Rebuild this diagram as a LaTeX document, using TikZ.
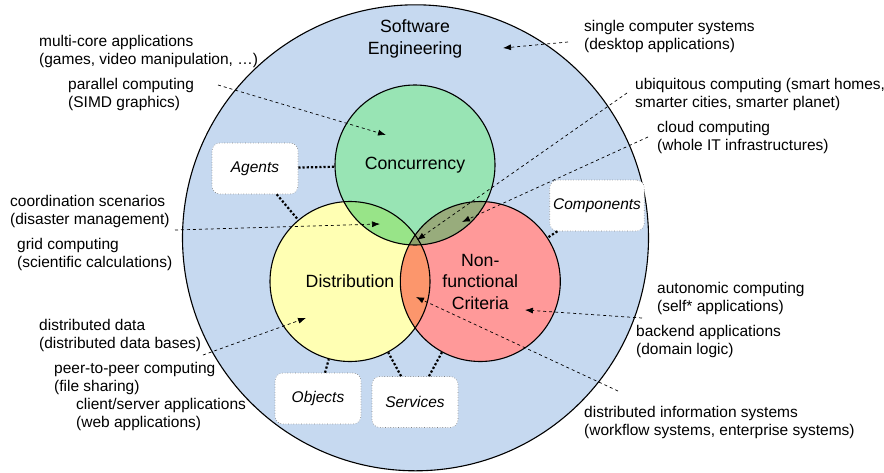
\documentclass[tikz,border=0pt]{standalone}
\usepackage{fontspec}
\setmainfont{Liberation Sans}
\usetikzlibrary{arrows.meta}
\definecolor{seblue}{RGB}{198,217,240}
\definecolor{concgreen}{RGB}{152,228,180}
\definecolor{distyellow}{RGB}{255,255,179}
\definecolor{nfcred}{RGB}{255,153,153}
\definecolor{cdmix}{RGB}{152,228,136}
\definecolor{cnmix}{RGB}{152,172,124}
\definecolor{dnmix}{RGB}{252,150,108}
\definecolor{allmix}{RGB}{140,160,105}

\begin{document}
\begin{tikzpicture}[x=1pt,y=-1pt,
  usecase/.style={anchor=west,align=left,inner sep=0pt,font=\fontsize{15.5}{18}\selectfont},
  field/.style={circle,draw,line width=1.1pt,minimum size=160pt,inner sep=0pt,align=center,font=\fontsize{17.7}{21.5}\selectfont},
  approach/.style={draw=gray,dotted,line width=0.6pt,rounded corners=8pt,fill=white,minimum width=86pt,minimum height=51pt,font=\fontsize{15.5}{18}\selectfont\itshape},
  link/.style={line width=2.2pt,dotted},
  pointer/.style={dashed,line width=0.7pt,-{Latex[length=8pt,width=6pt]}}]
  \useasboundingbox (0,0) rectangle (884,472);

  \node[circle,draw,line width=1.1pt,fill=seblue,minimum size=466pt,inner sep=0pt] (se) at (415.5,237.8) {};
  \node[align=center,font=\fontsize{17.7}{21.5}\selectfont] (setitle) at (415,39) {Software\\Engineering};

  \coordinate (c-conc) at (415,165);
  \coordinate (c-dist) at (350,281.5);
  \coordinate (c-nfc) at (480.3,281.5);

  \fill[concgreen] (c-conc) circle [radius=80pt];
  \fill[distyellow] (c-dist) circle [radius=80pt];
  \fill[nfcred] (c-nfc) circle [radius=80pt];
  \begin{scope}
    \clip (c-conc) circle [radius=80pt];
    \fill[cdmix] (c-dist) circle [radius=80pt];
    \fill[cnmix] (c-nfc) circle [radius=80pt];
    \clip (c-dist) circle [radius=80pt];
    \fill[allmix] (c-nfc) circle [radius=80pt];
  \end{scope}
  \begin{scope}
    \clip (c-dist) circle [radius=80pt];
    \clip (c-nfc) circle [radius=80pt];
    \fill[dnmix] (c-nfc) circle [radius=80pt];
    \clip (c-conc) circle [radius=80pt];
    \fill[allmix] (c-conc) circle [radius=80pt];
  \end{scope}

  \node[field] (conc) at (c-conc) {Concurrency};
  \node[field] (dist) at (c-dist) {Distribution};
  \node[field] (nfc) at (c-nfc) {Non-\\functional\\Criteria};

  \node[approach] (agents) at (255,168.5) {Agents};
  \node[approach] (components) at (597,205.5) {Components};
  \node[approach] (objects) at (318,398.5) {Objects};
  \node[approach] (services) at (415,402) {Services};

  \draw[link] (agents) -- (conc);
  \draw[link] (agents) -- (dist);
  \draw[link] (components) -- (nfc);
  \draw[link] (objects) -- (dist);
  \draw[link] (services) -- (dist);
  \draw[link] (services) -- (nfc);

  \node[usecase] (multicore) at (39,51) {multi-core applications\\(games, video manipulation, \dots)};
  \node[usecase] (parallel) at (68,94) {parallel computing\\(SIMD graphics)};
  \node[usecase] (coordination) at (10,211) {coordination scenarios\\(disaster management)};
  \node[usecase] (grid) at (17,254) {grid computing\\(scientific calculations)};
  \node[usecase] (data) at (39,335) {distributed data\\(distributed data bases)};
  \node[usecase] (p2p) at (54,378) {peer-to-peer computing\\(file sharing)};
  \node[usecase] (clientserver) at (76,414) {client/server applications\\(web applications)};
  \node[usecase] (single) at (584,36) {single computer systems\\(desktop applications)};
  \node[usecase] (ubiquitous) at (635,94.5) {ubiquitous computing (smart homes,\\smarter cities, smarter planet)};
  \node[usecase] (cloud) at (657,137.5) {cloud computing\\(whole IT infrastructures)};
  \node[usecase] (autonomic) at (657,298) {autonomic computing\\(self* applications)};
  \node[usecase] (backend) at (636,341.5) {backend applications\\(domain logic)};
  \node[usecase] (infosys) at (584,422) {distributed information systems\\(workflow systems, enterprise systems)};

  \coordinate (parallel-from) at (218,85);
  \coordinate (parallel-to) at (386,135);
  \coordinate (single-from) at (568,42);
  \coordinate (single-to) at (503,48);
  \coordinate (ubiquitous-from) at (627,93);
  \coordinate (ubiquitous-to) at (417,240);
  \coordinate (cloud-from) at (648,137);
  \coordinate (cloud-to) at (462,222);
  \coordinate (coordination-from) at (175,230);
  \coordinate (coordination-to) at (380,224);
  \coordinate (data-from) at (203,355);
  \coordinate (data-to) at (306,318);
  \coordinate (autonomic-from) at (642,318);
  \coordinate (autonomic-to) at (525,310);
  \coordinate (infosys-from) at (618,391);
  \coordinate (infosys-to) at (416,297);

  \draw[pointer] (parallel-from) -- (parallel-to);
  \draw[pointer] (single-from) -- (single-to);
  \draw[pointer] (ubiquitous-from) -- (ubiquitous-to);
  \draw[pointer] (cloud-from) -- (cloud-to);
  \draw[pointer] (coordination-from) -- (coordination-to);
  \draw[pointer] (data-from) -- (data-to);
  \draw[pointer] (autonomic-from) -- (autonomic-to);
  \draw[pointer] (infosys-from) -- (infosys-to);
\end{tikzpicture}
\end{document}
